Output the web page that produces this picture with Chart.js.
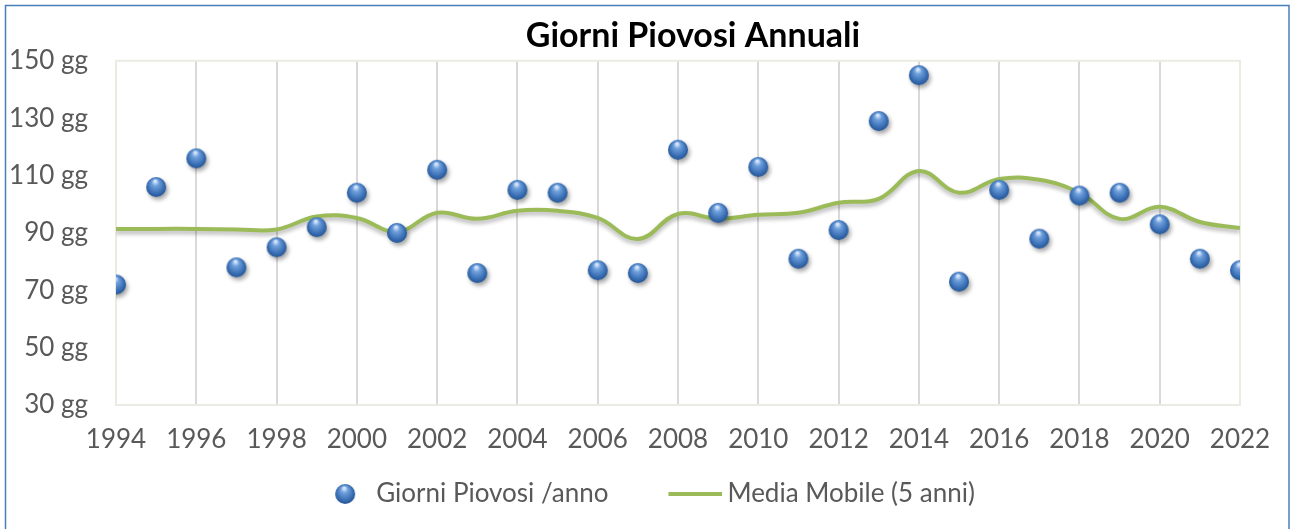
<!DOCTYPE html>
<html>
<head>
<meta charset="utf-8">
<script src="https://cdn.jsdelivr.net/npm/chart.js@4"></script>
<style>
  html, body { margin: 0; padding: 0; background: #fff; }
  #wrap { width: 1291px; height: 529px; }
</style>
</head>
<body>
<div id="wrap"><canvas id="myChart" width="1291" height="529"></canvas></div>
<script>
let anni = [1994, 1995, 1996, 1997, 1998, 1999, 2000, 2001, 2002, 2003, 2004, 2005, 2006, 2007, 2008,
  2009, 2010, 2011, 2012, 2013, 2014, 2015, 2016, 2017, 2018, 2019, 2020, 2021, 2022];
let giorniPiovosi = [72, 106, 116, 78, 85, 92, 104, 90, 112, 76, 105, 104, 77, 76, 119,
  97, 113, 81, 91, 129, 145, 73, 105, 88, 103, 104, 93, 81, 77];
let mediaMobile = [91.4, 91.4, 91.4, 91.2, 91.2, 95.7, 95.2, 90.4, 97.0, 94.9, 97.7, 97.7, 95.2, 87.9, 96.6,
  94.9, 96.3, 97.0, 100.5, 101.9, 111.6, 104.0, 108.8, 108.5, 104.0, 94.9, 99.1, 93.8, 91.7];
let yTicks = [30, 50, 70, 90, 110, 130, 150];

// sfera blu (marker), cx = posizione orizzontale del centro
function drawSphere(ctx, cx, cy, shadow) {
  ctx.save();
  if (shadow) {
    ctx.shadowColor = "rgba(0,0,0,0.35)";
    ctx.shadowBlur = 4;
    ctx.shadowOffsetX = 2;
    ctx.shadowOffsetY = 3;
  }
  let g = ctx.createRadialGradient(cx - 1, cy - 6, 1, cx, cy, 11);
  g.addColorStop(0, "#d6e6fb");
  g.addColorStop(0.25, "#6fa0dc");
  g.addColorStop(0.7, "#3a6fb5");
  g.addColorStop(1, "#1f4e8c");
  ctx.fillStyle = g;
  ctx.beginPath();
  ctx.arc(cx, cy, 10, 0, Math.PI * 2);
  ctx.fill();
  ctx.restore();
}
function makeCanvas(w, h) {
  let c = document.createElement("canvas");
  c.width = w; c.height = h;
  return c;
}
let sphere = makeCanvas(36, 36);
drawSphere(sphere.getContext("2d"), 18, 18, true);

// simboli della legenda (larghezza box 90)
let legSphere = makeCanvas(90, 24);
drawSphere(legSphere.getContext("2d"), 72, 12, false);
let legLine = makeCanvas(106, 24);
let lctx = legLine.getContext("2d");
lctx.fillStyle = "#9bbb59";
lctx.fillRect(52, 10, 54, 4);

let cornice = {
  id: "cornice",
  afterUpdate(chart) {
    // titolo spostato a destra come nell'originale
    chart.titleBlock.left += 69;
    chart.titleBlock.right += 69;
  },
  beforeDraw(chart) {
    let ctx = chart.ctx;
    ctx.save();
    ctx.strokeStyle = "#4a7ebb";
    ctx.lineWidth = 1.5;
    ctx.strokeRect(5.5, 5.5, 1283.5, 540);
    ctx.restore();
  },
  beforeDatasetsDraw(chart) {
    let a = chart.chartArea;
    let ctx = chart.ctx;
    ctx.save();
    ctx.strokeStyle = "#ecebe3";
    ctx.lineWidth = 2;
    ctx.strokeRect(a.left, a.top, a.right - a.left, a.bottom - a.top);
    ctx.restore();
  },
  beforeDatasetDraw(chart, args) {
    if (args.index === 1) {
      chart.ctx.save();
      chart.ctx.shadowColor = "rgba(0,0,0,0.3)";
      chart.ctx.shadowBlur = 4;
      chart.ctx.shadowOffsetY = 3;
    }
  },
  afterDatasetDraw(chart, args) {
    if (args.index === 1) chart.ctx.restore();
  }
};

new Chart("myChart", {
  type: "line",
  data: {
    datasets: [{
      label: "Giorni Piovosi /anno",
      data: anni.map((a, i) => ({ x: a, y: giorniPiovosi[i] })),
      showLine: false,
      pointStyle: sphere,
      backgroundColor: "#4f81bd",
      borderColor: "#4f81bd"
    }, {
      label: "Media Mobile (5 anni)",
      data: anni.map((a, i) => ({ x: a, y: mediaMobile[i] })),
      borderColor: "#9bbb59",
      backgroundColor: "#9bbb59",
      borderWidth: 4,
      tension: 0.4,
      pointRadius: 0
    }]
  },
  options: {
    responsive: false,
    animation: false,
    layout: { padding: { left: 8, right: 51, top: 0, bottom: 12 } },
    plugins: {
      title: {
        display: true,
        text: "Giorni Piovosi Annuali",
        color: "#000",
        font: { family: "Lato", size: 34, weight: "bold" },
        padding: { top: 16, bottom: 4 }
      },
      legend: {
        position: "bottom",
        labels: {
          usePointStyle: true,
          pointStyleWidth: 90,
          color: "#595959",
          font: { family: "Lato", size: 26 },
          padding: 16,
          generateLabels(chart) {
            let items = Chart.defaults.plugins.legend.labels.generateLabels(chart);
            items[0].pointStyle = legSphere;
            items[1].pointStyle = legLine;
            return items;
          }
        }
      },
      tooltip: { enabled: false }
    },
    scales: {
      x: {
        type: "linear",
        min: 1994,
        max: 2022,
        afterFit(scale) { scale.height = 60; },
        border: { display: false },
        grid: { color: "#d9d9d9", lineWidth: 2, drawTicks: false },
        ticks: {
          stepSize: 2,
          autoSkip: false,
          maxRotation: 0,
          padding: 19,
          color: "#595959",
          font: { family: "Lato", size: 26 },
          callback: v => String(v)
        }
      },
      y: {
        min: 30,
        max: 150,
        afterFit(scale) { scale.width = 108; },
        afterBuildTicks(scale) { scale.ticks = yTicks.map(v => ({ value: v })); },
        border: { display: false },
        grid: { display: false, drawTicks: false },
        ticks: {
          padding: 28,
          color: "#595959",
          font: { family: "Lato", size: 26 },
          callback: v => v + " gg"
        }
      }
    }
  },
  plugins: [cornice]
});
</script>
</body>
</html>
